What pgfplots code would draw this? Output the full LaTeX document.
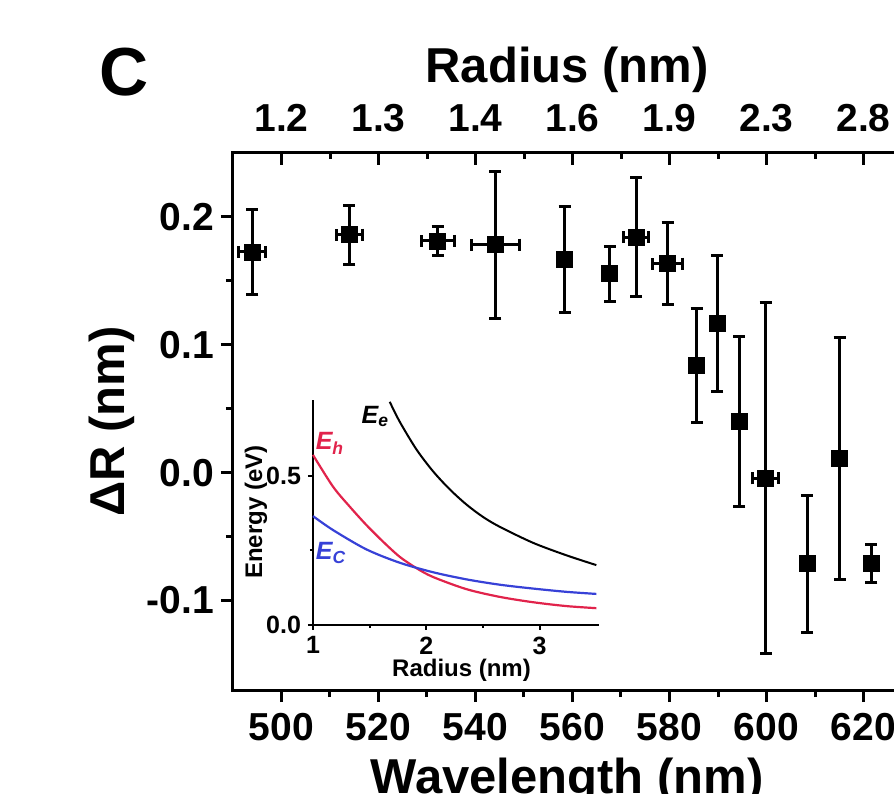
\documentclass[border=0pt]{standalone}
\usepackage{fontspec}
\setmainfont{Liberation Sans}
\usepackage{pgfplots}
\pgfplotsset{compat=1.18}
\usepackage{pgfplotstable}
\definecolor{ehred}{RGB}{225,35,75}
\definecolor{ecblue}{RGB}{55,65,215}
\pgfplotstableread{
x y ex ey
494.0 0.1726 2.8 0.0330
514.0 0.1861 2.7 0.0231
532.2 0.1812 3.4 0.0115
544.1 0.1784 4.9 0.0575
558.4 0.1666 0 0.0414
567.7 0.1556 0 0.0216
573.1 0.1843 2.6 0.0465
579.6 0.1635 3.1 0.0320
585.6 0.0838 0 0.0443
589.8 0.1165 1.0 0.0533
594.4 0.0400 0 0.0665
599.8 -0.0045 2.6 0.1372
608.4 -0.0712 0 0.0536
615.1 0.0111 1.0 0.0945
621.6 -0.0712 0 0.0148
}\maindata
\pgfplotstableread{
r E
1.000 0.571
1.177 0.464
1.324 0.397
1.471 0.335
1.618 0.279
1.765 0.228
1.912 0.190
2.059 0.160
2.354 0.119
2.648 0.093
2.942 0.075
3.236 0.062
3.500 0.055
}\ehdata
\pgfplotstableread{
r E
1.000 0.365
1.177 0.318
1.471 0.253
1.765 0.208
2.059 0.176
2.354 0.152
2.648 0.134
2.942 0.121
3.236 0.110
3.500 0.103
}\ecdata
\pgfplotstableread{
r E
1.677 0.750
1.765 0.683
1.912 0.590
2.059 0.516
2.207 0.455
2.354 0.404
2.501 0.362
2.648 0.329
2.942 0.275
3.236 0.233
3.500 0.200
}\eedata
\newcommand{\tickfont}{\fontsize{19.5}{20}\selectfont\bfseries}
\newcommand{\titlefont}{\fontsize{24.5}{26}\selectfont\bfseries}
\newcommand{\insetfont}{\fontsize{12.5}{13}\selectfont\bfseries}
\newcommand{\insetlabfont}{\fontsize{12}{13}\selectfont\bfseries}
\begin{document}
\begin{tikzpicture}
\path[use as bounding box] (-116.5pt,-51.5pt) rectangle (330.5pt,345pt);
\clip (-116.5pt,-51.5pt) rectangle (330.5pt,345pt);
\begin{axis}[
  scale only axis, width=339.5pt, height=268.5pt,
  xmin=490, xmax=630, ymin=-0.17, ymax=0.25,
  xtick={500,520,...,620}, minor x tick num=1,
  ytick={-0.1,0,0.1,0.2}, yticklabels={-0.1,0.0,0.1,0.2}, minor y tick num=1,
  xtick pos=bottom, ytick pos=left, tick align=outside,
  major tick length=6pt, minor tick length=3.5pt,
  axis line style={line width=1.5pt},
  every tick/.style={black, line width=1.5pt},
  /pgf/number format/assume math mode=true,
  tick label style={font=\tickfont},
  xticklabel shift=2pt,
  xlabel={Wavelength (nm)}, ylabel={ΔR (nm)},
  xlabel style={at={(axis description cs:0.492,-0.1266)}, anchor=north, inner sep=0pt, font=\titlefont},
  ylabel style={at={(axis description cs:-0.1786,0.5)}, anchor=center, font=\titlefont},
]
\addplot[black, only marks, mark=square*, mark size=4pt,
  error bars/.cd, x dir=both, x explicit, y dir=both, y explicit,
  error bar style={line width=1.5pt, black},
  error mark options={rotate=90, black, line width=1.5pt, mark size=3pt}]
  table[x=x, y=y, x error=ex, y error=ey] {\maindata};
\end{axis}
\begin{axis}[
  scale only axis, width=339.5pt, height=268.5pt,
  xmin=490, xmax=630, ymin=-0.17, ymax=0.25,
  axis x line*=top, hide y axis,
  xtick={500,520,...,620}, xticklabels={1.2,1.3,1.4,1.6,1.9,2.3,2.8},
  minor x tick num=1, tick align=inside,
  major tick length=6pt, minor tick length=3pt,
  axis line style={line width=1.5pt},
  every tick/.style={black, line width=1.5pt},
  tick label style={font=\tickfont},
  xticklabel shift=7pt,
  xlabel={Radius (nm)},
  xlabel style={at={(axis description cs:0.492,1.1546)}, anchor=center, font=\titlefont},
]
\end{axis}
\begin{axis}[
  at={(40pt,32.75pt)}, anchor=south west,
  scale only axis, width=142.8pt, height=112.25pt,
  xmin=1, xmax=3.52, ymin=0, ymax=0.756,
  axis lines*=left, axis line style={line width=1pt, -},
  xtick={1,2,3}, xticklabels={1,2,3}, minor x tick num=1,
  ytick={0,0.5}, yticklabels={0.0,0.5}, minor y tick num=1,
  tick align=outside, major tick length=2.5pt, minor tick length=1.5pt,
  every tick/.style={black, line width=1pt},
  tick label style={font=\insetfont},
  xlabel={Radius (nm)}, ylabel={Energy (eV)},
  xlabel style={at={(axis description cs:0.52,-0.205)}, anchor=center, font=\insetlabfont},
  ylabel style={at={(axis description cs:-0.2,0.5)}, anchor=center, font=\insetlabfont},
  clip=false,
]
\addplot[black, line width=1pt, smooth] table[x=r, y=E] {\eedata};
\addplot[ehred, line width=1.1pt, smooth] table[x=r, y=E] {\ehdata};
\addplot[ecblue, line width=1.1pt, smooth] table[x=r, y=E] {\ecdata};
\node[font=\insetfont\itshape, black] at (axis cs:1.55,0.70) {E\textsubscript{e}};
\node[font=\insetfont\itshape, ehred] at (axis cs:1.15,0.61) {E\textsubscript{h}};
\node[font=\insetfont\itshape, ecblue] at (axis cs:1.16,0.24) {E\textsubscript{C}};
\end{axis}
\node[font=\fontsize{34}{36}\selectfont\bfseries] at (-54.5pt,309pt) {C};
\end{tikzpicture}
\end{document}
